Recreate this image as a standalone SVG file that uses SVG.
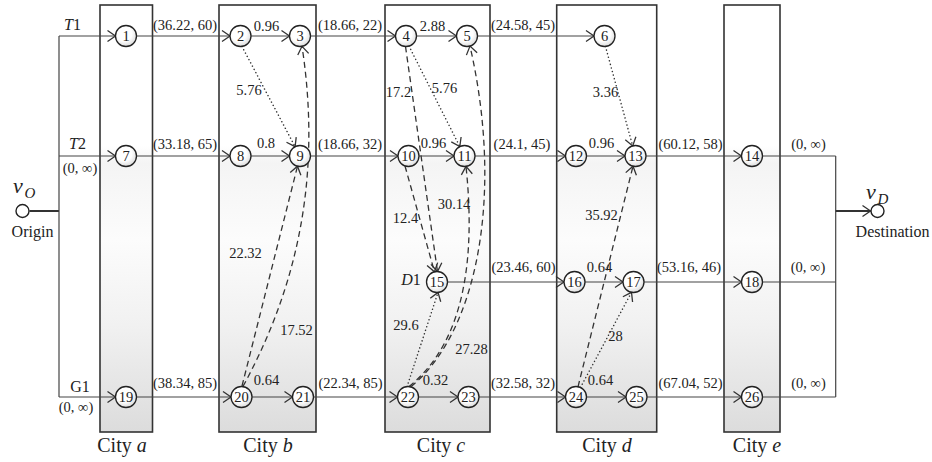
<svg xmlns="http://www.w3.org/2000/svg" width="932" height="462" viewBox="0 0 932 462">
<style>
.box{stroke:#333;stroke-width:1.6;fill:url(#boxg)}
.ln{fill:none;stroke:#444;stroke-width:1.2}
.thk{fill:none;stroke:#333;stroke-width:2}
.dash{fill:none;stroke:#333;stroke-width:1.3;stroke-dasharray:6 4}
.dot{fill:none;stroke:#333;stroke-width:1.5;stroke-dasharray:0.1 3.6;stroke-linecap:round}
.nd circle{fill:url(#ng);stroke:#222;stroke-width:1.3}
.nd text{font-family:"Liberation Serif","Times New Roman",serif;font-size:14.5px;fill:#222;text-anchor:middle}
.t{font-family:"Liberation Serif","Times New Roman",serif;font-size:14.5px;fill:#222;text-anchor:middle}
.rl{font-family:"Liberation Serif","Times New Roman",serif;font-size:16px;fill:#222;text-anchor:middle}
.city{font-family:"Liberation Serif","Times New Roman",serif;font-size:20px;fill:#222;text-anchor:middle}
.big{font-family:"Liberation Serif","Times New Roman",serif;font-size:16px;fill:#222;text-anchor:middle}
.it{font-style:italic}
.term{fill:#fff;stroke:#222;stroke-width:1.4}
</style>
<defs>
<linearGradient id="boxg" x1="0" y1="0" x2="0" y2="1">
<stop offset="0" stop-color="#ffffff"/>
<stop offset="0.33" stop-color="#ffffff"/>
<stop offset="0.37" stop-color="#f4f4f4"/>
<stop offset="0.55" stop-color="#fcfcfc"/>
<stop offset="0.75" stop-color="#f1f1f1"/>
<stop offset="1" stop-color="#dcdcdc"/>
</linearGradient>
<radialGradient id="ng" cx="0.42" cy="0.38" r="0.65">
<stop offset="0.55" stop-color="#ffffff"/>
<stop offset="1" stop-color="#dadada"/>
</radialGradient>
<marker id="ah" viewBox="-10 -7 12 14" refX="0" refY="0" markerWidth="12" markerHeight="14" markerUnits="userSpaceOnUse" orient="auto">
<path d="M-8,-5.5 L0,0 L-8,5.5" fill="none" stroke="#333" stroke-width="1.3" stroke-dasharray="none"/>
</marker>
</defs>

<g id="cities">
<rect class="box" x="100" y="5" width="52.5" height="427"/>
<rect class="box" x="219" y="5" width="97" height="427"/>
<rect class="box" x="385" y="5" width="105" height="427"/>
<rect class="box" x="556.7" y="5" width="100" height="427"/>
<rect class="box" x="724" y="5" width="56" height="427"/>
<text class="city" x="122" y="452">City <tspan class="it">a</tspan></text>
<text class="city" x="268" y="452">City <tspan class="it">b</tspan></text>
<text class="city" x="441" y="452">City <tspan class="it">c</tspan></text>
<text class="city" x="607" y="452">City <tspan class="it">d</tspan></text>
<text class="city" x="757" y="452">City <tspan class="it">e</tspan></text>
</g>

<g id="connectors">
<path class="thk" d="M29.5,211 H59"/>
<path class="ln" d="M59,36 V397"/>
<path class="ln" d="M59,36 H115.5" marker-end="url(#ah)"/>
<path class="ln" d="M59,156 H115.5" marker-end="url(#ah)"/>
<path class="ln" d="M59,397 H115.5" marker-end="url(#ah)"/>
<path class="ln" d="M136.5,36 H230" marker-end="url(#ah)"/>
<path class="ln" d="M251,36 H289.5" marker-end="url(#ah)"/>
<path class="ln" d="M310.5,36 H395.5" marker-end="url(#ah)"/>
<path class="ln" d="M416.5,36 H456.5" marker-end="url(#ah)"/>
<path class="ln" d="M477.5,36 H594" marker-end="url(#ah)"/>
<path class="ln" d="M136.5,156 H230" marker-end="url(#ah)"/>
<path class="ln" d="M251,156 H289.5" marker-end="url(#ah)"/>
<path class="ln" d="M310.5,156 H398" marker-end="url(#ah)"/>
<path class="ln" d="M419,156 H454" marker-end="url(#ah)"/>
<path class="ln" d="M475,156 H565.5" marker-end="url(#ah)"/>
<path class="ln" d="M586.5,156 H625" marker-end="url(#ah)"/>
<path class="ln" d="M646,156 H741.5" marker-end="url(#ah)"/>
<path class="ln" d="M762.5,156 H835.7"/>
<path class="ln" d="M447.5,282 H564" marker-end="url(#ah)"/>
<path class="ln" d="M585,282 H623" marker-end="url(#ah)"/>
<path class="ln" d="M644,282 H741.5" marker-end="url(#ah)"/>
<path class="ln" d="M762.5,282 H835.7"/>
<path class="ln" d="M136.5,397 H231" marker-end="url(#ah)"/>
<path class="ln" d="M252,397 H292.5" marker-end="url(#ah)"/>
<path class="ln" d="M313.5,397 H397.5" marker-end="url(#ah)"/>
<path class="ln" d="M418.5,397 H458" marker-end="url(#ah)"/>
<path class="ln" d="M479,397 H565.5" marker-end="url(#ah)"/>
<path class="ln" d="M586.5,397 H626" marker-end="url(#ah)"/>
<path class="ln" d="M647,397 H741.5" marker-end="url(#ah)"/>
<path class="ln" d="M762.5,397 H835.7"/>
<path class="ln" d="M835.7,156 V397"/>
<path class="thk" d="M835.7,211 H870.5" marker-end="url(#ah)"/>
<path class="dot" d="M242,46.5 L295.1,146.7" marker-end="url(#ah)"/>
<path class="dash" d="M243,386.4 C290,300 324,190 302,46.3" marker-end="url(#ah)"/>
<path class="dash" d="M242,386 L297.5,166.2" marker-end="url(#ah)"/>
<path class="dot" d="M409,46.1 L459.8,146.6" marker-end="url(#ah)"/>
<path class="dash" d="M405.5,46.5 L437.5,271.5" marker-end="url(#ah)"/>
<path class="dash" d="M405,166 L434.5,271.8" marker-end="url(#ah)"/>
<path class="dash" d="M411,386.5 C475,335 505,200 470,46.1" marker-end="url(#ah)"/>
<path class="dash" d="M409,386.5 C455,350 478,280 466,166.4" marker-end="url(#ah)"/>
<path class="dot" d="M407,386.6 L438,292.4" marker-end="url(#ah)"/>
<path class="dot" d="M605.5,46.5 L632.7,145.9" marker-end="url(#ah)"/>
<path class="dash" d="M578,386.8 L633,166.2" marker-end="url(#ah)"/>
<path class="dot" d="M580.5,387.5 L631.5,292.3" marker-end="url(#ah)"/>
</g>

<g id="origin">
<circle class="term" cx="22.5" cy="211" r="6.5"/>
<text class="city it" x="18" y="193" style="font-size:22px">v</text>
<text class="t it" x="30" y="198" style="font-size:15px">O</text>
<text class="big" x="32.5" y="237">Origin</text>
</g>
<g id="destination">
<circle class="term" cx="877.5" cy="211" r="6.5"/>
<text class="city it" x="871" y="199" style="font-size:22px">v</text>
<text class="t it" x="883" y="204" style="font-size:15px">D</text>
<text class="big" x="892.5" y="237">Destination</text>
</g>

<g id="n1" class="nd"><circle cx="126" cy="36" r="10.5"/><text x="126" y="41">1</text></g>
<g id="n2" class="nd"><circle cx="240.5" cy="36" r="10.5"/><text x="240.5" y="41">2</text></g>
<g id="n3" class="nd"><circle cx="300" cy="36" r="10.5"/><text x="300" y="41">3</text></g>
<g id="n4" class="nd"><circle cx="406" cy="36" r="10.5"/><text x="406" y="41">4</text></g>
<g id="n5" class="nd"><circle cx="467" cy="36" r="10.5"/><text x="467" y="41">5</text></g>
<g id="n6" class="nd"><circle cx="604.5" cy="36" r="10.5"/><text x="604.5" y="41">6</text></g>
<g id="n7" class="nd"><circle cx="126" cy="156" r="10.5"/><text x="126" y="161">7</text></g>
<g id="n8" class="nd"><circle cx="240.5" cy="156" r="10.5"/><text x="240.5" y="161">8</text></g>
<g id="n9" class="nd"><circle cx="300" cy="156" r="10.5"/><text x="300" y="161">9</text></g>
<g id="n10" class="nd"><circle cx="408.5" cy="156" r="10.5"/><text x="408.5" y="161">10</text></g>
<g id="n11" class="nd"><circle cx="464.5" cy="156" r="10.5"/><text x="464.5" y="161">11</text></g>
<g id="n12" class="nd"><circle cx="576" cy="156" r="10.5"/><text x="576" y="161">12</text></g>
<g id="n13" class="nd"><circle cx="635.5" cy="156" r="10.5"/><text x="635.5" y="161">13</text></g>
<g id="n14" class="nd"><circle cx="752" cy="156" r="10.5"/><text x="752" y="161">14</text></g>
<g id="n15" class="nd"><circle cx="437" cy="282" r="10.5"/><text x="437" y="287">15</text></g>
<g id="n16" class="nd"><circle cx="574.5" cy="282" r="10.5"/><text x="574.5" y="287">16</text></g>
<g id="n17" class="nd"><circle cx="633.5" cy="282" r="10.5"/><text x="633.5" y="287">17</text></g>
<g id="n18" class="nd"><circle cx="752" cy="282" r="10.5"/><text x="752" y="287">18</text></g>
<g id="n19" class="nd"><circle cx="126" cy="397" r="10.5"/><text x="126" y="402">19</text></g>
<g id="n20" class="nd"><circle cx="241.5" cy="397" r="10.5"/><text x="241.5" y="402">20</text></g>
<g id="n21" class="nd"><circle cx="303" cy="397" r="10.5"/><text x="303" y="402">21</text></g>
<g id="n22" class="nd"><circle cx="408" cy="397" r="10.5"/><text x="408" y="402">22</text></g>
<g id="n23" class="nd"><circle cx="468.5" cy="397" r="10.5"/><text x="468.5" y="402">23</text></g>
<g id="n24" class="nd"><circle cx="576" cy="397" r="10.5"/><text x="576" y="402">24</text></g>
<g id="n25" class="nd"><circle cx="636.5" cy="397" r="10.5"/><text x="636.5" y="402">25</text></g>
<g id="n26" class="nd"><circle cx="752" cy="397" r="10.5"/><text x="752" y="402">26</text></g>

<g id="labels">
<text class="rl" x="72.5" y="30"><tspan class="it">T</tspan>1</text>
<text class="rl" x="77.5" y="149"><tspan class="it">T</tspan>2</text>
<text class="t" x="80" y="173">(0, ∞)</text>
<text class="rl" x="80" y="392">G1</text>
<text class="t" x="76" y="412">(0, ∞)</text>
<text class="rl" x="411" y="285"><tspan class="it">D</tspan>1</text>

<text class="t" x="185" y="30">(36.22, 60)</text>
<text class="t" x="266.5" y="31">0.96</text>
<text class="t" x="350" y="30">(18.66, 22)</text>
<text class="t" x="432.5" y="31">2.88</text>
<text class="t" x="523" y="30">(24.58, 45)</text>

<text class="t" x="185" y="149">(33.18, 65)</text>
<text class="t" x="266" y="148">0.8</text>
<text class="t" x="350" y="149">(18.66, 32)</text>
<text class="t" x="433.5" y="148">0.96</text>
<text class="t" x="522" y="149">(24.1, 45)</text>
<text class="t" x="601.5" y="148">0.96</text>
<text class="t" x="690.5" y="149">(60.12, 58)</text>
<text class="t" x="808.5" y="149">(0, ∞)</text>

<text class="t" x="523.5" y="272">(23.46, 60)</text>
<text class="t" x="599.5" y="272">0.64</text>
<text class="t" x="689" y="272">(53.16, 46)</text>
<text class="t" x="808" y="272">(0, ∞)</text>

<text class="t" x="185" y="388">(38.34, 85)</text>
<text class="t" x="266.5" y="385">0.64</text>
<text class="t" x="350.5" y="388">(22.34, 85)</text>
<text class="t" x="435.5" y="385">0.32</text>
<text class="t" x="523" y="388">(32.58, 32)</text>
<text class="t" x="600.5" y="385">0.64</text>
<text class="t" x="690.5" y="388">(67.04, 52)</text>
<text class="t" x="808.5" y="388">(0, ∞)</text>

<text class="t" x="249" y="95">5.76</text>
<text class="t" x="245.5" y="258">22.32</text>
<text class="t" x="296.5" y="335">17.52</text>
<text class="t" x="398.5" y="97">17.2</text>
<text class="t" x="444.5" y="93">5.76</text>
<text class="t" x="405.5" y="223">12.4</text>
<text class="t" x="454" y="209">30.14</text>
<text class="t" x="406" y="330">29.6</text>
<text class="t" x="471.5" y="354">27.28</text>
<text class="t" x="605.5" y="97">3.36</text>
<text class="t" x="601.5" y="220">35.92</text>
<text class="t" x="615.5" y="341">28</text>
</g>
</svg>
